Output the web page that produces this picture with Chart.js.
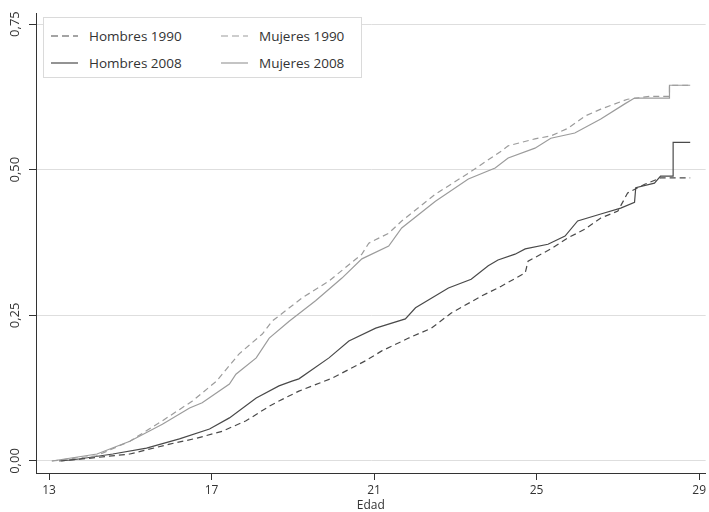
<!DOCTYPE html>
<html>
<head>
<meta charset="utf-8">
<script src="https://cdn.jsdelivr.net/npm/chart.js@4"></script>
<style>
  html, body { margin: 0; padding: 0; background: #fff; }
  #wrap { position: relative; width: 709px; height: 512px; }
  #legend {
    position: absolute; left: 43px; top: 17px; width: 319px; height: 61px;
    background: #fff; border: 1px solid #dadada; box-sizing: border-box;
    font-family: "Open Sans", sans-serif; font-size: 13.5px; color: #333;
  }
  .item { position: absolute; display: flex; align-items: center; height: 18px; }
  .item svg { margin-right: 11px; }
</style>
</head>
<body>
<div id="wrap">
  <canvas id="c" width="709" height="512"></canvas>
  <div id="legend"></div>
</div>
<script>
// ---- Data ----
const xTicks = [13, 17, 21, 25, 29];
const yTicks = [0, 0.25, 0.5, 0.75];
const seriesNames = ["Hombres 1990", "Mujeres 1990", "Hombres 2008", "Mujeres 2008"];

const hombres1990Age = [13.25, 13.76, 14.99, 15.97, 16.63, 17.26, 17.85, 18.42, 18.66, 19.15, 19.96, 20.79, 21.19, 21.85, 22.41, 22.90, 23.64, 24.13, 24.72, 24.79, 25.35, 25.77, 26.19, 26.58, 27.00, 27.24, 27.66, 28.05, 28.78];
const hombres1990Val = [0, 0.003, 0.012, 0.029, 0.039, 0.051, 0.069, 0.094, 0.103, 0.120, 0.142, 0.172, 0.189, 0.211, 0.228, 0.254, 0.283, 0.300, 0.323, 0.343, 0.364, 0.383, 0.398, 0.417, 0.429, 0.460, 0.475, 0.486, 0.486];

const hombres2008Age = [13.3, 13.69, 14.57, 15.40, 16.21, 16.95, 17.44, 18.10, 18.66, 18.98, 19.15, 19.89, 20.38, 21.04, 21.77, 22.02, 22.83, 23.39, 23.81, 24.05, 24.47, 24.72, 25.28, 25.70, 26.01, 26.58, 27.07, 27.41, 27.44, 27.90, 28.05, 28.36, 28.36, 28.78];
const hombres2008Val = [0, 0.003, 0.012, 0.022, 0.038, 0.055, 0.074, 0.108, 0.129, 0.137, 0.141, 0.177, 0.206, 0.228, 0.244, 0.263, 0.297, 0.312, 0.335, 0.345, 0.355, 0.364, 0.372, 0.386, 0.412, 0.424, 0.434, 0.444, 0.469, 0.477, 0.489, 0.489, 0.547, 0.547];

const mujeres1990Age = [13.07, 14.17, 14.99, 15.79, 16.53, 17.12, 17.68, 18.25, 18.49, 19.23, 19.89, 20.70, 20.87, 21.36, 21.68, 22.51, 23.32, 24.13, 24.30, 24.96, 25.35, 25.77, 26.19, 26.58, 27.24, 27.80, 28.27, 28.27, 28.78];
const mujeres1990Val = [0, 0.009, 0.034, 0.069, 0.103, 0.137, 0.184, 0.218, 0.240, 0.280, 0.309, 0.355, 0.374, 0.391, 0.412, 0.458, 0.494, 0.532, 0.541, 0.553, 0.558, 0.571, 0.592, 0.604, 0.621, 0.626, 0.626, 0.645, 0.645];

const mujeres2008Age = [13.07, 14.18, 14.99, 15.79, 16.46, 16.77, 17.44, 17.60, 18.10, 18.42, 18.91, 19.56, 20.21, 20.70, 21.36, 21.68, 22.51, 23.32, 23.98, 24.30, 24.96, 25.35, 25.94, 26.58, 27.17, 27.41, 28.27, 28.27, 28.78];
const mujeres2008Val = [0, 0.012, 0.034, 0.063, 0.091, 0.100, 0.132, 0.149, 0.177, 0.211, 0.240, 0.275, 0.314, 0.347, 0.369, 0.400, 0.446, 0.484, 0.503, 0.520, 0.537, 0.554, 0.563, 0.587, 0.613, 0.623, 0.623, 0.645, 0.645];

// ---- Styles ----
const DARK = '#4a4a4a';
const LIGHT = '#9c9c9c';
const FONT = '"Open Sans", sans-serif';

function pts(ages, vals) { return ages.map((a, i) => ({ x: a, y: vals[i] })); }

const datasets = [
  { label: seriesNames[0], data: pts(hombres1990Age, hombres1990Val), borderColor: DARK, borderDash: [6, 4] },
  { label: seriesNames[1], data: pts(mujeres1990Age, mujeres1990Val), borderColor: LIGHT, borderDash: [6, 4] },
  { label: seriesNames[2], data: pts(hombres2008Age, hombres2008Val), borderColor: DARK, borderDash: [] },
  { label: seriesNames[3], data: pts(mujeres2008Age, mujeres2008Val), borderColor: LIGHT, borderDash: [] }
].map(d => Object.assign(d, { borderWidth: 1.2, pointRadius: 0, fill: false, tension: 0 }));

new Chart(document.getElementById('c'), {
  type: 'line',
  data: { datasets },
  options: {
    responsive: false,
    animation: false,
    layout: { padding: { top: 13, right: 0, left: 0, bottom: 0 } },
    plugins: { legend: { display: false }, tooltip: { enabled: false } },
    scales: {
      x: {
        type: 'linear',
        min: 12.68, max: 29.16,
        afterBuildTicks: s => { s.ticks = xTicks.map(v => ({ value: v })); },
        afterFit: s => { s.height = 39; },
        grid: { drawOnChartArea: false, tickLength: 7, tickColor: '#333', lineWidth: 1 },
        border: { color: '#333', width: 1 },
        ticks: { color: '#333', font: { family: FONT, size: 12 }, padding: 3, maxRotation: 0 },
        title: { display: true, text: 'Edad', color: '#333', font: { family: FONT, size: 12, lineHeight: 1.0 }, padding: { top: 0, bottom: 0 } }
      },
      y: {
        type: 'linear',
        min: -0.0206, max: 0.769,
        afterBuildTicks: s => { s.ticks = yTicks.map(v => ({ value: v })); },
        afterFit: s => { s.width = 36; },
        grid: { color: '#dedede', tickColor: '#333', tickLength: 7, lineWidth: 1 },
        border: { color: '#333', width: 1 },
        ticks: {
          color: '#333', font: { family: FONT, size: 13 },
          minRotation: 90, maxRotation: 90, crossAlign: 'center', padding: 1,
          callback: v => v.toFixed(2).replace('.', ',')
        }
      }
    }
  }
});

// ---- Legend (HTML overlay) ----
const legendItems = [
  { name: seriesNames[0], color: DARK, dash: '7,4', left: 7, top: 9 },
  { name: seriesNames[1], color: LIGHT, dash: '7,4', left: 177, top: 9 },
  { name: seriesNames[2], color: DARK, dash: '', left: 7, top: 36 },
  { name: seriesNames[3], color: LIGHT, dash: '', left: 177, top: 36 }
];
const lg = document.getElementById('legend');
legendItems.forEach(it => {
  const d = document.createElement('div');
  d.className = 'item';
  d.style.left = it.left + 'px';
  d.style.top = it.top + 'px';
  d.innerHTML = '<svg width="27" height="4"><line x1="0" y1="2" x2="27" y2="2" stroke="' + it.color +
    '" stroke-width="1.2"' + (it.dash ? ' stroke-dasharray="' + it.dash + '"' : '') + '/></svg><span>' + it.name + '</span>';
  lg.appendChild(d);
});
</script>
</body>
</html>
